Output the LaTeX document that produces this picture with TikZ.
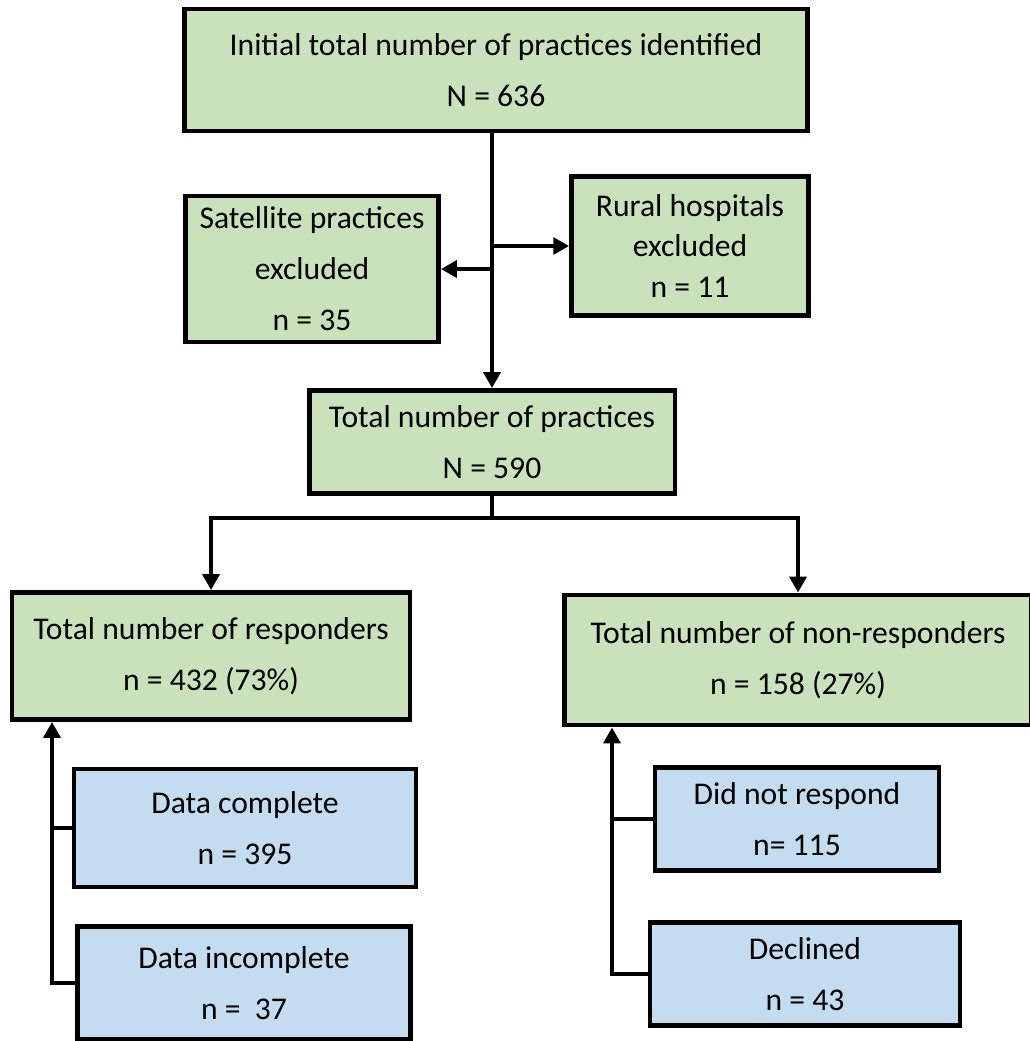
\documentclass[tikz,border=0pt]{standalone}
\usepackage{fontspec}
\setmainfont{Carlito}
\usepackage{tikz}
\usetikzlibrary{arrows.meta,calc}
\definecolor{boxgreen}{HTML}{CAE2BC}
\definecolor{boxblue}{HTML}{C3DCEF}
\newcommand{\ArrTip}{Triangle[length=9pt,width=9.5pt]}
\tikzset{box/.style={draw,line width=2.8pt,align=center,inner sep=0pt,font=\fontsize{18}{29}\selectfont},
grnbox/.style={box,fill=boxgreen},blubox/.style={box,fill=boxblue},
ln/.style={line width=2.6pt},arr/.style={ln,-{\ArrTip}}}
\begin{document}
\begin{tikzpicture}[x=0.02cm,y=-0.02cm]
\useasboundingbox(0,0)rectangle(1029,1041);
% top part
\node[grnbox,minimum width=12.46cm,minimum height=2.44cm](init)at(496,70){Initial total number of practices identified\\N = 636};
\node[grnbox,minimum width=5.06cm,minimum height=2.92cm](sat)at(312,269){Satellite practices\\excluded\\n = 35};
\node[grnbox,minimum width=4.74cm,minimum height=2.78cm,font=\fontsize{18}{23}\selectfont](rural)at(690,246){Rural hospitals\\excluded\\n = 11};
\node[grnbox,minimum width=7.32cm,minimum height=2.06cm](total)at(492,442){Total number of practices\\N = 590};
\draw[arr](init.south-|total)--(total.north);
\draw[arr](sat.east-|total.north)--(sat.east);\draw[arr](rural.west-|total.north)--(rural.west);
% split
\node[grnbox,minimum width=7.96cm,minimum height=2.54cm](resp)at(211,656){Total number of responders\\n = 432 (73\%)};
\node[grnbox,minimum width=9.34cm,minimum height=2.6cm](nonresp)at(798,660){Total number of non-responders\\n = 158 (27\%)};
\coordinate(split)at(492,518);
\draw[ln](total.south)--(split);\draw[arr](split)-|(resp.north);\draw[arr](split)-|(nonresp.north);
% sub boxes
\node[blubox,minimum width=6.84cm,minimum height=2.36cm](dc)at(245,828){Data complete\\n = 395};
\node[blubox,minimum width=6.66cm,minimum height=2.26cm](di)at(244,983){Data incomplete\\n = \ 37};
\node[blubox,minimum width=5.68cm,minimum height=2.06cm](dnr)at(797,819){Did not respond\\n= 115};
\node[blubox,minimum width=6.2cm,minimum height=2.06cm](dec)at(805,974){Declined\\n = 43};
\coordinate(lx)at(52,0);\coordinate(rx)at(612,0);
\draw[arr](di.west)-|(resp.south-|lx);\draw[ln](dc.west)--(dc.west-|lx);
\draw[arr](dec.west)-|(nonresp.south-|rx);\draw[ln](dnr.west)--(dnr.west-|rx);
\end{tikzpicture}
\end{document}
